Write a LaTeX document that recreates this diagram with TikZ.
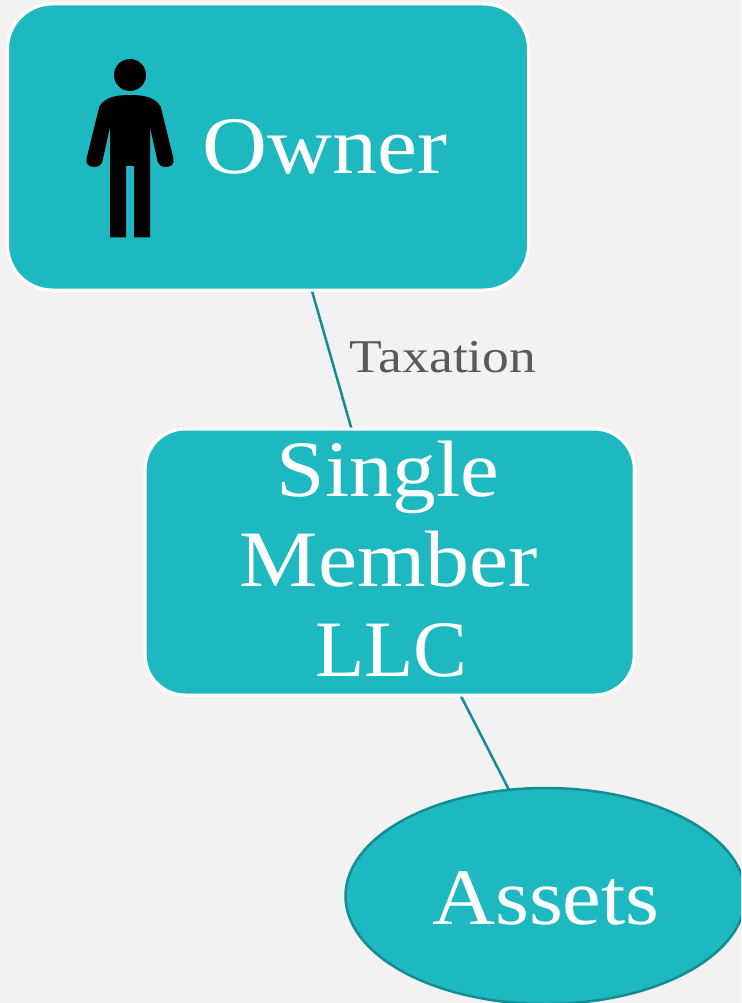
\documentclass[tikz,border=0pt]{standalone}
\usepackage{fontspec}
\setmainfont{Liberation Serif}
\usetikzlibrary{shapes.geometric}
\definecolor{tealfill}{HTML}{1EB8C1}
\definecolor{tealline}{HTML}{148C94}
\definecolor{pagebg}{HTML}{F2F2F2}
\definecolor{labelgrey}{HTML}{595959}
\tikzset{
  boxnode/.style={draw=white,line width=3pt,fill=tealfill,rounded corners=#1,inner sep=0pt,outer sep=0pt},
  ovalnode/.style={ellipse,draw=tealline,line width=2.5pt,fill=tealfill,inner sep=0pt,outer sep=0pt,minimum width=400pt,minimum height=216pt},
  bigtext/.style={text=white,font=\fontsize{80}{90}\selectfont,inner sep=0pt,outer sep=0pt,align=center},
  smalltext/.style={text=labelgrey,font=\fontsize{47}{50}\selectfont,inner sep=0pt},
  link/.style={draw=tealline,line width=2.5pt}
}
\begin{document}
\begin{tikzpicture}[x=1pt,y=-1pt]
\path[use as bounding box,fill=pagebg] (0,0) rectangle (741,1003);
\begin{scope}
\clip (0,0) rectangle (741,1003);
\node[boxnode=45pt,minimum width=521pt,minimum height=286pt] (owner) at (268,147) {};
\node[boxnode=40pt,minimum width=489pt,minimum height=266pt] (llc) at (389.7,562) {};
\node[ovalnode] (assets) at (545.5,896) {};
\draw[link] (owner.-73.8) -- (llc.106.4);
\draw[link] (llc.-62.6) -- (assets.109.6);
\node[boxnode=45pt,minimum width=521pt,minimum height=286pt] at (268,147) {};
\node[boxnode=40pt,minimum width=489pt,minimum height=266pt] at (389.7,562) {};
\end{scope}
\node[bigtext,anchor=base] (ownertext) at (325,174) {\scalebox{1.125}[1.02]{Owner}};
\node[bigtext,anchor=base] (llcline) at (388,496) {\scalebox{1.09}[1]{Single}};
\node[bigtext,anchor=base] (llcline2) at (389,586) {\scalebox{1.1}[1]{Member}};
\node[bigtext,anchor=base] (llcline3) at (391.5,676) {\scalebox{1.01}[1]{LLC}};
\node[bigtext,anchor=base] (assetstext) at (546,924) {\scalebox{1.09}[1]{Assets}};
\node[smalltext,anchor=base] (taxation) at (443,372) {\scalebox{1.14}[1]{Taxation}};
\fill[black] (130,75) circle[radius=16];
\fill[black] (130,95)
  .. controls (112,95) and (104,99) .. (99.3,106.7)
  -- (86.7,158)
  .. controls (85,164) and (89,167) .. (94.3,167)
  .. controls (98,167) and (101,165) .. (102.3,161.7)
  -- (110,127.3) -- (110,237.3) -- (126,237.3) -- (126,166) -- (134,166) -- (134,237.3) -- (150,237.3) -- (150,127.3)
  -- (157.7,161.7)
  .. controls (159,165) and (162,167) .. (165.7,167)
  .. controls (171,167) and (175,164) .. (173.3,158)
  -- (160.7,106.7)
  .. controls (156,99) and (148,95) .. (130,95) -- cycle;
\end{tikzpicture}
\end{document}
